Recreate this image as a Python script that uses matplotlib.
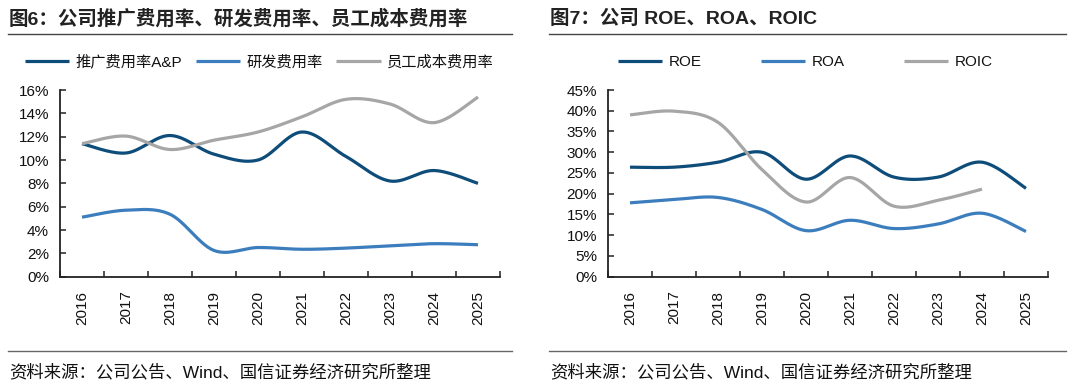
import numpy as np
import matplotlib
matplotlib.use("Agg")
import matplotlib.pyplot as plt
from matplotlib.lines import Line2D
from matplotlib.ticker import FuncFormatter, FixedLocator

plt.rcParams['font.family'] = ['Liberation Sans', 'Noto Sans CJK SC', 'DejaVu Sans']

# ---------------- data ----------------
years = ['2016', '2017', '2018', '2019', '2020', '2021', '2022', '2023', '2024', '2025']

ap_rate = [11.4, 10.6, 12.1, 10.5, 10.0, 12.4, 10.3, 8.2, 9.1, 8.0]          # 推广费用率A&P
rd_rate = [5.1, 5.7, 5.35, 2.25, 2.5, 2.35, 2.45, 2.65, 2.83, 2.74]        # 研发费用率
staff_rate = [11.4, 12.05, 10.9, 11.7, 12.4, 13.7, 15.2, 14.8, 13.2, 15.4]  # 员工成本费用率

roe = [26.4, 26.4, 27.6, 30.0, 23.5, 29.1, 24.0, 24.0, 27.6, 21.3]
roa = [17.8, 18.6, 19.1, 16.2, 11.1, 13.6, 11.6, 12.7, 15.3, 10.9]
roic = [39.0, 39.9, 37.2, 25.8, 18.0, 23.9, 17.0, 18.4, 21.1, np.nan]

left_names = ['推广费用率A&P', '研发费用率', '员工成本费用率']
right_names = ['ROE', 'ROA', 'ROIC']
left_title = '图6：公司推广费用率、研发费用率、员工成本费用率'
right_title = '图7：公司 ROE、ROA、ROIC'
source = '资料来源：公司公告、Wind、国信证券经济研究所整理'

C_DARK = '#0E4C7A'
C_MID = '#3C7EBD'
C_GRAY = '#A6A6A6'

W, H = 1080, 384
fig = plt.figure(figsize=(W / 100, H / 100), dpi=100)


def smooth(xs, ys, n=30):
    xs = np.asarray(xs, float)
    ys = np.asarray(ys, float)
    m = np.isfinite(ys)
    xs, ys = xs[m], ys[m]
    px = np.concatenate([[xs[0]], xs, [xs[-1]]])
    py = np.concatenate([[ys[0]], ys, [ys[-1]]])
    ox, oy = [], []
    for i in range(1, len(px) - 2):
        p0x, p1x, p2x, p3x = px[i - 1], px[i], px[i + 1], px[i + 2]
        p0y, p1y, p2y, p3y = py[i - 1], py[i], py[i + 1], py[i + 2]
        c1x = p1x + (p2x - p0x) / 6
        c1y = p1y + (p2y - p0y) / 6
        c2x = p2x - (p3x - p1x) / 6
        c2y = p2y - (p3y - p1y) / 6
        t = np.linspace(0, 1, n, endpoint=(i == len(px) - 3))
        b0 = (1 - t) ** 3
        b1 = 3 * (1 - t) ** 2 * t
        b2 = 3 * (1 - t) * t ** 2
        b3 = t ** 3
        ox.append(b0 * p1x + b1 * c1x + b2 * c2x + b3 * p2x)
        oy.append(b0 * p1y + b1 * c1y + b2 * c2y + b3 * p2y)
    return np.concatenate(ox), np.concatenate(oy)


def px_rect(x0, y0, x1, y1):
    return [x0 / W, 1 - y1 / H, (x1 - x0) / W, (y1 - y0) / H]


def make_axes(rect, ymax, ystep, series, colors, names, leg_x, colspacing):
    ax = fig.add_axes(rect)
    xs = np.arange(len(years))
    handles = []
    for ys, c, nm in zip(series, colors, names):
        sx, sy = smooth(xs, ys)
        ln, = ax.plot(sx, sy, color=c, lw=2.3, solid_capstyle='butt', label=nm)
        handles.append(ln)
    ax.set_xlim(-0.5, len(years) - 0.5)
    ax.set_ylim(0, ymax)
    ax.set_yticks(np.arange(0, ymax + 0.001, ystep))
    ax.yaxis.set_major_formatter(FuncFormatter(lambda v, p: f'{v:.0f}%'))
    ax.set_xticks(xs)
    ax.set_xticklabels(years, rotation=90)
    ax.xaxis.set_minor_locator(FixedLocator(np.arange(-0.5, len(years), 1.0)))
    ax.tick_params(axis='x', which='major', length=0, pad=10, labelsize=11)
    ax.tick_params(axis='x', which='minor', direction='in', length=4.5, width=1.1, color='#222222')
    ax.tick_params(axis='y', direction='in', length=4.5, width=1.1, pad=8, labelsize=11, color='#222222')
    for s in ['top', 'right']:
        ax.spines[s].set_visible(False)
    for s in ['left', 'bottom']:
        ax.spines[s].set_linewidth(1.3)
        ax.spines[s].set_color('#222222')
    for lab in ax.get_xticklabels() + ax.get_yticklabels():
        lab.set_color('#111111')
    leg = fig.legend(handles=handles, loc='center left',
                     bbox_to_anchor=(leg_x / W, 1 - 62 / H), ncol=3,
                     frameon=False, fontsize=11, handlelength=2.9,
                     handletextpad=0.4, columnspacing=colspacing,
                     borderpad=0, borderaxespad=0)
    for t in leg.get_texts():
        t.set_color('#111111')
    return ax


make_axes(px_rect(60, 90, 500, 276.7), 16, 2, [ap_rate, rd_rate, staff_rate],
          [C_DARK, C_MID, C_GRAY], left_names, 25, 0.9)
make_axes(px_rect(608, 90, 1048, 276.7), 45, 5, [roe, roa, roic],
          [C_DARK, C_MID, C_GRAY], right_names, 618, 3.9)

# titles, rules, source notes
for x0, x1, title in [(8, 512, left_title), (549, 1066, right_title)]:
    fig.text(x0 / W + 1 / W, 1 - 19 / H, title, fontsize=14, fontweight='bold',
             va='center', ha='left', color='#222222')
    fig.add_artist(Line2D([x0 / W, x1 / W], [1 - 33.5 / H] * 2, color='#444444', lw=1.0))
    fig.add_artist(Line2D([x0 / W, x1 / W], [1 - 351 / H] * 2, color='#666666', lw=1.0))
    fig.text(x0 / W + 1 / W, 1 - 372 / H, source, fontsize=12.5, va='center', ha='left',
             color='#111111')

fig.savefig('out.png', dpi=100, facecolor='white')
